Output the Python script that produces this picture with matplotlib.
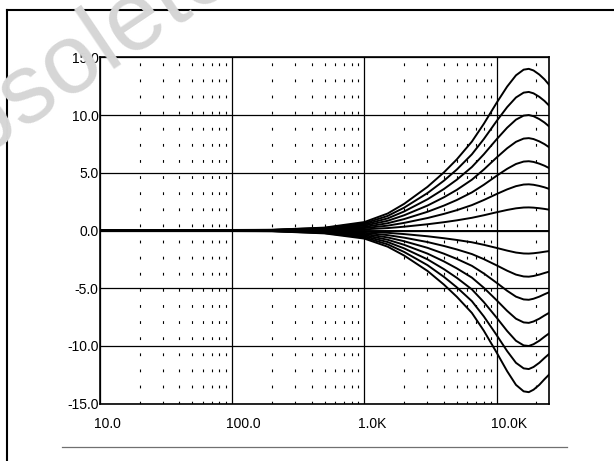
import matplotlib
matplotlib.use("Agg")
import matplotlib.pyplot as plt
from matplotlib.lines import Line2D
from matplotlib.ticker import FixedLocator, NullFormatter
from matplotlib.transforms import ScaledTranslation

# frequency points (Hz) the curves were read at
freqs = [10, 200, 500, 1000, 1500, 2000, 3000, 4000, 5000, 6500,
         8000, 10000, 12000, 14000, 16000, 17500, 19000, 21000, 23000, 25000]

# treble boost curves (dB)
boost_14 = [0, 0.06, 0.25, 0.73, 1.47, 2.31, 3.78, 5.04, 6.16, 7.70,
            9.24, 11.06, 12.46, 13.44, 13.93, 14.0, 13.86, 13.51, 13.09, 12.6]
boost_12 = [0, 0.05, 0.22, 0.62, 1.26, 1.98, 3.24, 4.32, 5.28, 6.6,
            7.92, 9.48, 10.68, 11.52, 11.94, 12.0, 11.88, 11.58, 11.22, 10.8]
boost_10 = [0, 0.04, 0.18, 0.52, 1.05, 1.65, 2.7, 3.6, 4.4, 5.5,
            6.6, 7.9, 8.9, 9.6, 9.95, 10.0, 9.9, 9.65, 9.35, 9.0]
boost_8 = [0, 0.03, 0.14, 0.42, 0.84, 1.32, 2.16, 2.88, 3.52, 4.4,
           5.28, 6.32, 7.12, 7.68, 7.96, 8.0, 7.92, 7.72, 7.48, 7.2]
boost_6 = [0, 0.02, 0.11, 0.31, 0.63, 0.99, 1.62, 2.16, 2.64, 3.3,
           3.96, 4.74, 5.34, 5.76, 5.97, 6.0, 5.94, 5.79, 5.61, 5.4]
boost_4 = [0, 0.02, 0.07, 0.21, 0.42, 0.66, 1.08, 1.44, 1.76, 2.2,
           2.64, 3.16, 3.56, 3.84, 3.98, 4.0, 3.96, 3.86, 3.74, 3.6]
boost_2 = [0, 0.01, 0.04, 0.1, 0.21, 0.33, 0.54, 0.72, 0.88, 1.1,
           1.32, 1.58, 1.78, 1.92, 1.99, 2.0, 1.98, 1.93, 1.87, 1.8]
flat = [0] * len(freqs)
# treble cut curves (dB)
cut_2 = [0, -0.01, -0.04, -0.1, -0.2, -0.31, -0.5, -0.67, -0.82, -1.02,
         -1.24, -1.51, -1.74, -1.91, -1.99, -2.0, -1.97, -1.91, -1.84, -1.78]
cut_4 = [0, -0.02, -0.07, -0.2, -0.4, -0.62, -1.0, -1.34, -1.64, -2.04,
         -2.48, -3.02, -3.48, -3.82, -3.98, -4.0, -3.94, -3.82, -3.68, -3.56]
cut_6 = [0, -0.02, -0.11, -0.3, -0.6, -0.93, -1.5, -2.01, -2.46, -3.06,
         -3.72, -4.53, -5.22, -5.73, -5.97, -6.0, -5.91, -5.73, -5.52, -5.34]
cut_8 = [0, -0.03, -0.14, -0.4, -0.8, -1.24, -2.0, -2.68, -3.28, -4.08,
         -4.96, -6.04, -6.96, -7.64, -7.96, -8.0, -7.88, -7.64, -7.36, -7.12]
cut_10 = [0, -0.04, -0.18, -0.5, -1.0, -1.55, -2.5, -3.35, -4.1, -5.1,
          -6.2, -7.55, -8.7, -9.55, -9.95, -10.0, -9.85, -9.55, -9.2, -8.9]
cut_12 = [0, -0.05, -0.22, -0.6, -1.2, -1.86, -3.0, -4.02, -4.92, -6.12,
          -7.44, -9.06, -10.44, -11.46, -11.94, -12.0, -11.82, -11.46, -11.04, -10.68]
cut_14 = [0, -0.06, -0.25, -0.7, -1.4, -2.17, -3.5, -4.69, -5.74, -7.14,
          -8.68, -10.57, -12.18, -13.37, -13.93, -14.0, -13.79, -13.37, -12.88, -12.46]

curves = [boost_14, boost_12, boost_10, boost_8, boost_6, boost_4, boost_2, flat,
          cut_2, cut_4, cut_6, cut_8, cut_10, cut_12, cut_14]

x_ticks = [10, 100, 1000, 10000]
x_labels = ["10.0", "100.0", "1.0K", "10.0K"]
y_ticks = [-15, -10, -5, 0, 5, 10, 15]
y_labels = ["-15.0", "-10.0", "-5.0", "0.0", "5.0", "10.0", "15.0"]
minor_x = [m * d for d in (10, 100, 1000, 10000) for m in range(2, 10) if m * d < 25000]

plt.rcParams['font.family'] = ['Liberation Sans', 'DejaVu Sans']
plt.rcParams['lines.scale_dashes'] = False


def main():
    fig = plt.figure(figsize=(6.14, 4.61), dpi=100)
    ax = fig.add_axes([0.1625, 0.1243, 0.7321, 0.7514])

    for c in curves:
        ax.plot(freqs, c, color="black", lw=1.4, solid_joinstyle="round", zorder=3)

    ax.set_xscale("log")
    ax.set_xlim(10, 25000)
    ax.set_ylim(-15, 15)

    ax.xaxis.set_major_locator(FixedLocator(x_ticks))
    ax.xaxis.set_minor_locator(FixedLocator(minor_x))
    ax.xaxis.set_major_formatter(NullFormatter())
    ax.xaxis.set_minor_formatter(NullFormatter())
    ax.set_yticks(y_ticks)
    ax.set_yticklabels(y_labels, fontsize=10)
    ax.tick_params(which="both", length=0)
    ax.tick_params(axis="y", pad=1)

    ax.grid(which="major", color="black", lw=0.9)
    ax.grid(which="minor", axis="x", color="black", lw=0.8, linestyle=(0, (2.0, 9.6)))
    for s in ax.spines.values():
        s.set_linewidth(1.2)

    # x labels sit a little to the right of their gridlines
    off = ax.get_xaxis_transform() + ScaledTranslation(-6 / 100, -20 / 100, fig.dpi_scale_trans)
    for t, lab in zip(x_ticks, x_labels):
        ax.text(t, 0, lab, transform=off, ha="left", va="center", fontsize=10, clip_on=False)

    # page frame and rule below the chart
    fig.add_artist(Line2D([7 / 614, 7 / 614], [0, 1 - 10 / 461], color="black", lw=1.5))
    fig.add_artist(Line2D([7 / 614, 1], [1 - 10 / 461, 1 - 10 / 461], color="black", lw=1.5))
    fig.add_artist(Line2D([62 / 614, 567 / 614], [1 - 447 / 461, 1 - 447 / 461], color="#707070", lw=0.9))

    fig.text(-0.142, 0.565, "Obsolete", rotation=34, rotation_mode="anchor", ha="left",
             va="baseline", fontsize=71, color="#d6d6d6", zorder=10)

    fig.savefig("out.png", dpi=100)


if __name__ == '__main__':
    main()
